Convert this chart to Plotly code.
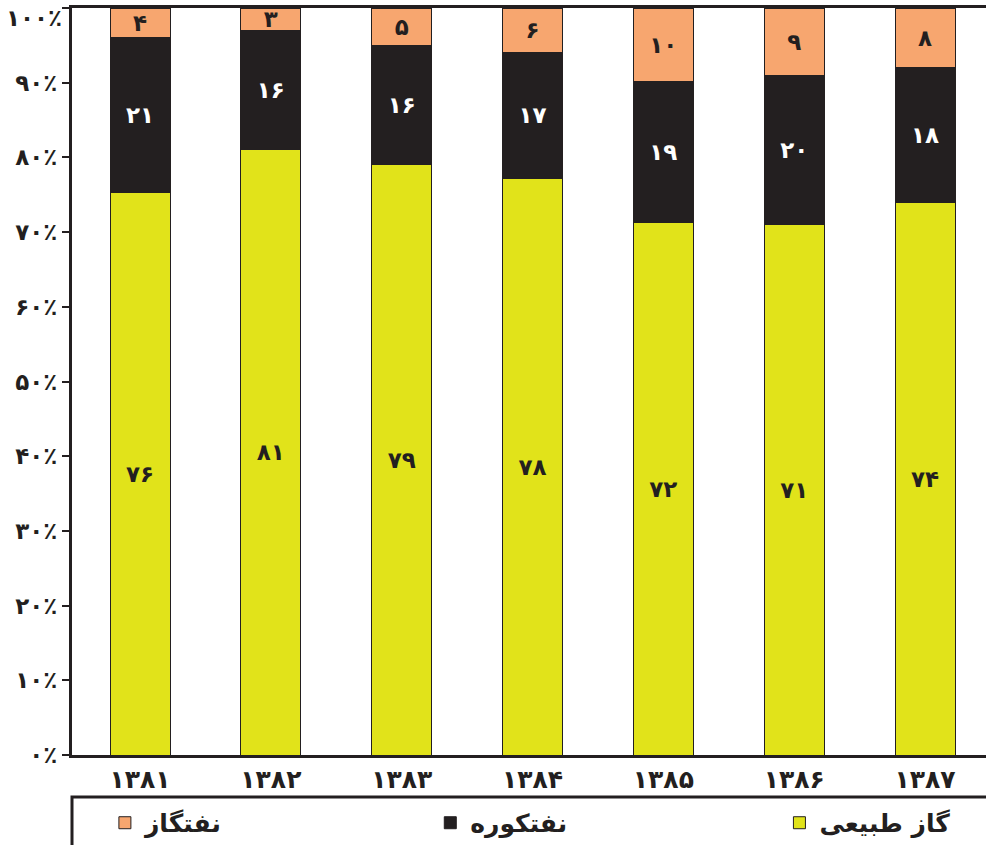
import plotly.graph_objects as go

FA = str.maketrans("0123456789", "۰۱۲۳۴۵۶۷۸۹")


def fa(v):
    return str(v).translate(FA)


years = ["1381", "1382", "1383", "1384", "1385", "1386", "1387"]
natural_gas = [76, 81, 79, 78, 72, 71, 74]   # گاز طبیعی
fuel_oil = [21, 16, 16, 17, 19, 20, 18]      # نفتکوره
gas_oil = [4, 3, 5, 6, 10, 9, 8]             # نفتگاز
y_ticks = [0, 10, 20, 30, 40, 50, 60, 70, 80, 90, 100]

cats = [fa(y) for y in years]
FONT = "DejaVu Sans"
DARK = "#231f20"

series = [
    ("گاز طبیعی", natural_gas, "#e1e31a", DARK, "legend4"),
    ("نفتکوره", fuel_oil, "#231f20", "white", "legend3"),
    ("نفتگاز", gas_oil, "#f7a66f", DARK, "legend2"),
]

fig = go.Figure()
for name, vals, color, tcolor, leg in series:
    fig.add_bar(
        x=cats, y=vals, name=name, legend=leg,
        marker=dict(color=color, line=dict(color=DARK, width=1)),
        text=[fa(v) for v in vals], textposition="inside",
        insidetextanchor="middle", textangle=0, constraintext="none",
        textfont=dict(color=tcolor, size=23, family=FONT, weight="bold"),
    )


def leg_cfg(x):
    return dict(
        x=x, xanchor="left", y=-0.091, yanchor="middle",
        font=dict(size=25, family=FONT, color=DARK, weight="bold"),
        bgcolor="rgba(0,0,0,0)",
    )


tick_text = [fa(t) + "٪" for t in y_ticks]
# the top label is drawn as an annotation (nudged down, as in the source)
top_label = tick_text[-1]
tick_text_axis = tick_text[:-1] + [""]

fig.update_layout(
    barmode="stack", barnorm="percent", bargap=0.541,
    width=986, height=845,
    margin=dict(l=72, r=0, t=8, b=90, autoexpand=False),
    plot_bgcolor="white", paper_bgcolor="white",
    font=dict(family=FONT, color=DARK),
    legend2=leg_cfg(0.036),
    legend3=leg_cfg(0.392),
    legend4=leg_cfg(0.774),
    uniformtext=dict(minsize=20, mode="show"),
    shapes=[dict(type="rect", xref="paper", yref="paper",
                 x0=0, x1=1.05, y0=-0.0562, y1=-0.3,
                 line=dict(color=DARK, width=3))],
    annotations=[dict(
        text=top_label, xref="paper", x=0, xanchor="right", xshift=-8,
        yref="y", y=y_ticks[-1], yanchor="middle", yshift=-10,
        showarrow=False,
        font=dict(size=23, family=FONT, color=DARK, weight="bold"),
    )],
)
fig.update_xaxes(
    range=[-0.52, 6.466], showline=True, linewidth=3, linecolor=DARK,
    mirror=True, ticks="", showgrid=False, automargin=False,
    tickfont=dict(size=25, family=FONT, color=DARK, weight="bold"),
)
fig.update_yaxes(
    range=[0, 100], showline=True, linewidth=3, linecolor=DARK,
    ticks="outside", ticklen=7, tickwidth=2, tickcolor=DARK,
    tickvals=y_ticks, ticktext=tick_text_axis,
    showgrid=False, zeroline=False, automargin=False,
    tickfont=dict(size=23, family=FONT, color=DARK, weight="bold"),
)

fig.write_html("out.html", config={"displayModeBar": False},
               post_script="document.body.style.margin='0';")
